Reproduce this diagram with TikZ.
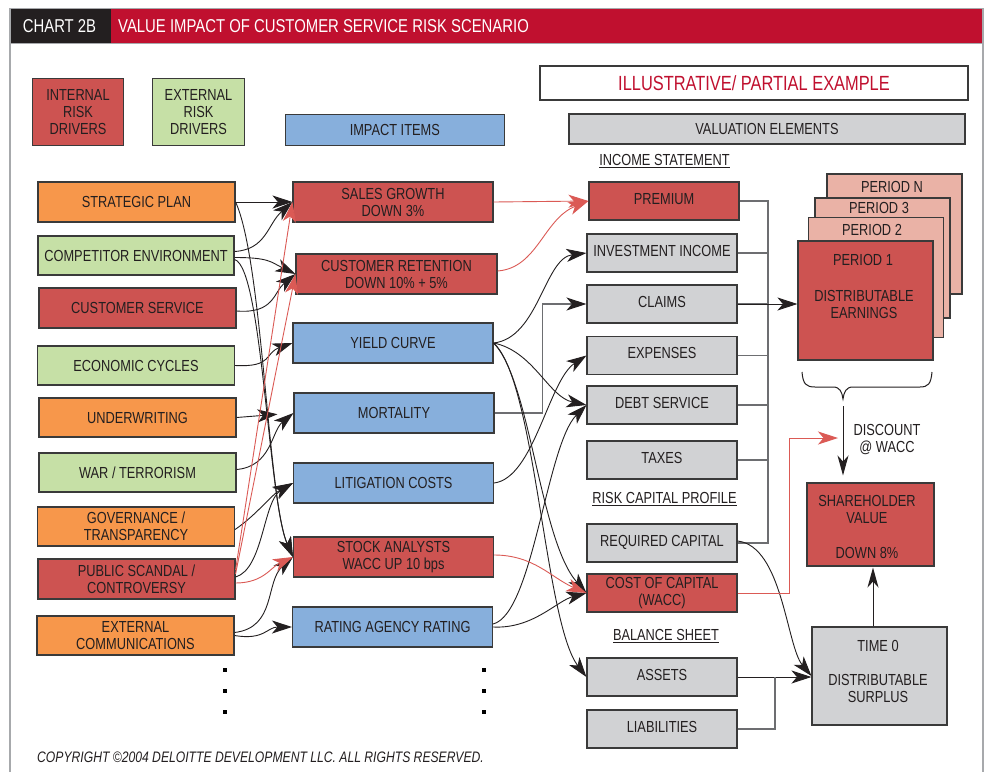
\documentclass[tikz,border=0pt]{standalone}
\usepackage{fontspec}
\setmainfont{Liberation Sans}[FakeStretch=0.8]
\usetikzlibrary{arrows.meta}
\definecolor{ired}{HTML}{CD5351}
\definecolor{org}{HTML}{F7974B}
\definecolor{grn}{HTML}{C6E0A6}
\definecolor{blu}{HTML}{87AFDC}
\definecolor{gry}{HTML}{D1D2D4}
\definecolor{pnk}{HTML}{EAB2A6}
\definecolor{tred}{HTML}{C0102F}
\definecolor{tdark}{HTML}{231F20}
\definecolor{txt}{HTML}{231F20}
\definecolor{lred}{HTML}{DB5A55}
\definecolor{fgray}{HTML}{A7A9AC}
\definecolor{busg}{HTML}{6D6E71}
\definecolor{bdr}{HTML}{3A3A3A}
\newcommand\boxfont{\fontsize{16}{17}\selectfont}
\newcommand\bigfont{\fontsize{20.5}{22}\selectfont}
\newcommand\ttlfont{\fontsize{18.6}{20}\selectfont}
\newcommand\cpfont{\fontsize{15.2}{16}\selectfont\itshape}
\begin{document}
\begin{tikzpicture}[x=1pt,y=-1pt,
  nbox/.style={draw=bdr, line width=1.1pt, inner sep=0pt, align=center, text=txt, font=\boxfont, minimum height=40pt},
  lw/.style={nbox, minimum width=197pt},
  mw/.style={nbox, minimum width=200pt},
  rbox/.style={nbox, minimum width=150pt, minimum height=38pt, fill=gry},
  rw/.style={rbox, text depth=5pt},
  pbox/.style={nbox, fill=pnk, minimum width=135pt, minimum height=120pt},
  txtn/.style={inner sep=0pt, align=center, text=txt, font=\boxfont},
  lbl/.style={inner sep=0pt, text=txt, font=\boxfont},
  ttl/.style={inner sep=0pt, text=white, font=\ttlfont},
  dot/.style={rectangle, fill=black, minimum size=3.5pt, inner sep=0pt},
  tip/.style={-{Stealth[length=20pt,width=13pt,inset=5.5pt]}},
  arr/.style={line width=0.9pt, draw=txt, tip},
  rarr/.style={line width=0.9pt, draw=lred, tip},
  garr/.style={line width=1.1pt, draw=busg, -{Stealth[length=20pt,width=13pt,inset=5.5pt,color=txt]}},
  sarr/.style={line width=1pt, draw=txt, -{Stealth[length=20pt,width=11pt,inset=6pt]}},
  bus/.style={line width=1.3pt, draw=busg},
]
\useasboundingbox (0,0) rectangle (986,772);
\fill[white] (0,0) rectangle (986,772);
% title bar and frame
\fill[tdark] (10,9) rectangle (110.5,43);
\fill[tred] (110.5,9) rectangle (983,43);
\draw[fgray, line width=1pt] (10,43.5) -- (983,43.5);
\draw[fgray, line width=1.5pt] (10,772) -- (10,8.5) -- (983,8.5) -- (983,772);
\node[ttl] (t1) at (59.5,26.5) {CHART 2B};
\node[ttl, anchor=west] (t2) at (118,26.5) {VALUE IMPACT OF CUSTOMER SERVICE RISK SCENARIO};
% legend
\node[nbox, fill=ired, minimum width=91.5pt, minimum height=67pt] (lint) at (78,112) {INTERNAL\\RISK\\DRIVERS};
\node[nbox, fill=grn, minimum width=92.5pt, minimum height=67pt] (lext) at (198.5,112) {EXTERNAL\\RISK\\DRIVERS};
\node[nbox, fill=blu, minimum width=219pt, minimum height=31pt] (limp) at (394.8,129.7) {IMPACT ITEMS};
\node[nbox, fill=white, minimum width=428pt, minimum height=34pt, font=\bigfont, text=tred] (ill) at (754,83) {ILLUSTRATIVE/ PARTIAL EXAMPLE};
\node[nbox, fill=gry, minimum width=396pt, minimum height=30pt] (ve) at (767,129) {VALUATION ELEMENTS};
% left column
\node[lw, fill=org] (sp) at (136.5,202) {STRATEGIC PLAN};
\node[lw, fill=grn, minimum width=196pt, minimum height=39pt] (ce) at (136,255.5) {COMPETITOR ENVIRONMENT};
\node[lw, fill=ired] (cs) at (137.5,308) {CUSTOMER SERVICE};
\node[lw, fill=grn, minimum height=39pt] (ecc) at (136,365.5) {ECONOMIC CYCLES};
\node[lw, fill=org, minimum height=39pt] (uw) at (137.5,417.5) {UNDERWRITING};
\node[lw, fill=grn, minimum height=39pt] (wt) at (137.5,472.5) {WAR / TERRORISM};
\node[lw, fill=org, minimum height=39pt] (gv) at (136,526.5) {GOVERNANCE /\\TRANSPARENCY};
\node[lw, fill=ired] (ps) at (136.5,579) {PUBLIC SCANDAL /\\CONTROVERSY};
\node[lw, fill=org, minimum height=39pt] (ex) at (135.5,635.5) {EXTERNAL\\COMMUNICATIONS};
% middle column
\node[mw, fill=ired] (sg) at (393,202) {SALES GROWTH\\DOWN 3\%};
\node[mw, fill=ired, minimum width=201pt] (cr) at (396.5,274) {CUSTOMER RETENTION\\DOWN 10\% + 5\%};
\node[mw, fill=blu] (yc) at (393,343) {YIELD CURVE};
\node[mw, fill=blu] (mo) at (394,413) {MORTALITY};
\node[mw, fill=blu] (lc) at (393.5,483) {LITIGATION COSTS};
\node[mw, fill=ired] (sa) at (393.5,557) {STOCK ANALYSTS\\WACC UP 10 bps};
\node[mw, fill=blu] (ra) at (392.5,627) {RATING AGENCY RATING};
% right column
\node[lbl] (is) at (664.5,161) {\underline{INCOME STATEMENT}};
\node[rw, fill=ired] (pr) at (664,201) {PREMIUM};
\node[rw] (ii) at (662,253) {INVESTMENT INCOME};
\node[rw] (cl) at (662,304) {CLAIMS};
\node[rw] (xp) at (662,355.5) {EXPENSES};
\node[rw] (ds) at (662,405) {DEBT SERVICE};
\node[rw] (tx) at (662,460) {TAXES};
\node[lbl] (rcp) at (664.5,499) {\underline{RISK CAPITAL PROFILE}};
\node[rw] (rc) at (662,543) {REQUIRED CAPITAL};
\node[rbox, fill=ired] (cc) at (662,593) {COST OF CAPITAL\\(WACC)};
\node[lbl] (bs) at (666,636) {\underline{BALANCE SHEET}};
\node[rw] (as) at (662,677) {ASSETS};
\node[rw] (li) at (662,729) {LIABILITIES};
% periods
\node[pbox] (pn) at (894.5,234) {};
\node[pbox] (p3) at (882.5,258) {};
\node[pbox] (p2) at (876,277.5) {};
\node[nbox, fill=ired, minimum width=135pt, minimum height=119pt] (p1) at (865.5,300.5) {};
\node[txtn] (pnt) at (892,187) {PERIOD N};
\node[txtn] (p3t) at (879,208) {PERIOD 3};
\node[txtn] (p2t) at (872,230) {PERIOD 2};
\node[txtn] (p1t) at (863,260) {PERIOD 1};
\node[txtn] (p1e) at (864,304) {DISTRIBUTABLE\\EARNINGS};
% brace
\draw[txt, line width=1pt] (802,372) .. controls (803,384) and (806,387) .. (815,387) -- (833,387) .. controls (840,387) and (842,392) .. (843,399) .. controls (844,392) and (846,387) .. (853,387) -- (920,387) .. controls (928,387) and (931,384) .. (932,372);
\coordinate (btip) at (843,406);
\node[txtn] (dw) at (887,440) {DISCOUNT\\@ WACC};
% shareholder value and time 0
\node[nbox, fill=ired, minimum width=127pt, minimum height=83pt] (sv) at (870.5,524.5) {};
\node[txtn] (svt) at (867,509.5) {SHAREHOLDER\\VALUE};
\node[txtn] (svd) at (867,553) {DOWN 8\%};
\node[nbox, fill=gry, minimum width=135pt, minimum height=98pt] (t0) at (879.5,676) {};
\node[txtn] (t0t) at (878,646) {TIME 0};
\node[txtn] (t0d) at (878,688.5) {DISTRIBUTABLE\\SURPLUS};
% dots
\foreach \i/\y in {1/670,2/691,3/712} {
  \node[dot] (dl\i) at (225,\y) {};
  \node[dot] (dm\i) at (484,\y) {};
}
% copyright
\node[anchor=west, inner sep=0pt, font=\cpfont, text=txt] (cp) at (37,757) {COPYRIGHT ©2004 DELOITTE DEVELOPMENT LLC. ALL RIGHTS RESERVED.};
% ---------- connectors: drivers to impact items
\draw[arr] (sp.east) -- (sg.west);
\draw[arr] (sp.east) .. controls +(27,58) and +(-25,-57) .. (sa.west);
\draw[arr] (ce.east) ++(0,-4) .. controls +(32,-2) and +(-25,22) .. (sg.west);
\draw[arr] (ce.east) ++(0,2) .. controls +(35,0) and +(-25,-12) .. (cr.west);
\draw[arr] (ce.east) ++(0,4) .. controls +(28,8) and +(-25,-57) .. (sa.west);
\draw[arr] (cs.east) ++(0,3) .. controls +(38,3) and +(-22,18) .. (cr.west);
\draw[arr] (ecc.east) .. controls +(38,2) and +(-28,10) .. (yc.west);
\draw[arr, shorten >=16pt] (uw.east) -- (mo.west);
\draw[arr] (wt.east) ++(0,-3) .. controls +(35,-3) and +(-22,18) .. (mo.west);
\draw[arr] (gv.east) ++(0,3) .. controls +(22,-15) and +(-22,12) .. (lc.west);
\draw[arr] (ps.east) ++(0,-2) .. controls +(28,-8) and +(-30,18) .. (lc.west);
\draw[arr] (ex.east) ++(0,-3) .. controls +(42,-5) and +(-28,25) .. (sa.west);
\draw[arr] (ex.east) .. controls +(30,5) and +(-25,0) .. (ra.west);
\draw[rarr] (ps.east) ++(0,-9) -- (sg.west);
\draw[rarr] (ps.east) ++(0,-5) -- (cr.west);
\draw[rarr] (ps.east) ++(0,4) .. controls +(28,0) and +(-22,10) .. (sa.west);
% ---------- impact items to valuation elements
\draw[rarr] (sg.east) -- (pr.west);
\draw[rarr] (cr.east) ++(0,-3) .. controls +(40,-3) and +(-45,18) .. (pr.west);
\draw[arr] (yc.east) .. controls +(45,-5) and +(-42,5) .. (ii.west);
\draw[garr] (mo.east) -- ++(48,0) |- (cl.west);
\draw[arr] (yc.east) .. controls +(40,8) and +(-38,-8) .. (ds.west);
\draw[arr] (yc.east) .. controls +(37,37) and +(-47,-53) .. (cc.west);
\draw[arr] (yc.east) .. controls +(42,37) and +(-42,-55) .. (as.west);
\draw[arr] (lc.east) .. controls +(40,-5) and +(-38,25) .. (xp.west);
\draw[arr] (ra.east) ++(0,-3) .. controls +(40,-10) and +(-40,40) .. (ds.west);
\draw[arr] (ra.east) .. controls +(40,2) and +(-30,8) .. (cc.west);
\draw[rarr] (sa.east) ++(0,-2) .. controls +(40,0) and +(-35,-15) .. (cc.west);
% ---------- valuation elements to results
\coordinate (bx) at (768,0);
\draw[bus] (pr.east) -| (rc.east -| bx) -- (rc.east);
\foreach \n in {ii,cl,xp,ds,tx} \draw[bus] (\n.east) -- (\n.east -| bx);
\draw[arr] (cl.east) -- (cl.east -| p1.west);
\draw[arr] (rc.east) ++(0,-2) .. controls +(45,5) and +(-25,-30) .. (t0.west);
\draw[arr] (as.east) -- (as.east -| t0.west);
\coordinate (jn) at (775,677);
\draw[bus] (li.east) -| (jn);
\coordinate (dtip) at (838,438);
\draw[rarr] (cc.east) -- ++(52,0) |- (dtip);
\draw[sarr, shorten >=7pt] (btip) -- (btip |- sv.north);
\draw[sarr, shorten >=1pt] ([xshift=-6.5pt]t0.north) -- ([xshift=-6.5pt]t0.north |- sv.south);
\end{tikzpicture}
\end{document}
